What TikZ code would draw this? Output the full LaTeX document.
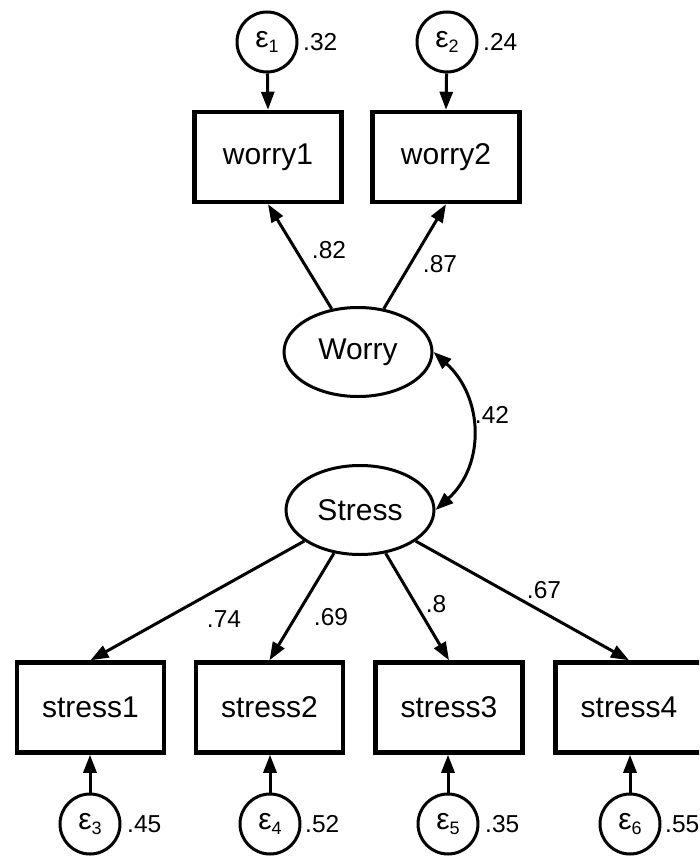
\documentclass[tikz,border=0pt]{standalone}
\usepackage{fontspec}
\setmainfont{Liberation Sans}
\usetikzlibrary{arrows.meta,shapes.geometric}
\newcommand{\epsl}[1]{ε\raisebox{-5pt}{\fontsize{18}{18}\selectfont #1}}
\begin{document}
\begin{tikzpicture}[x=1pt,y=-1pt,
  box/.style={draw, line width=4.5pt, minimum width=147pt, minimum height=90pt, inner sep=0pt, font=\fontsize{30}{36}\selectfont},
  lat/.style={draw, ellipse, line width=3pt, minimum width=148pt, minimum height=89pt, inner sep=0pt, font=\fontsize{30}{36}\selectfont},
  err/.style={draw, circle, line width=3pt, minimum size=60pt, inner sep=0pt, font=\fontsize{30}{36}\selectfont},
  lab/.style={font=\fontsize{24.5}{28}\selectfont, inner sep=0pt},
  arr/.style={-{Triangle[length=18pt,width=13pt]}, line width=3pt},
  darr/.style={{Triangle[length=18pt,width=13pt]}-{Triangle[length=18pt,width=13pt]}, line width=3pt},
]
\useasboundingbox (0,0) rectangle (699,859);
\clip (0,0) rectangle (699,859);

% latent variables
\node[lat] (Worry) at (358,352) {Worry};
\node[lat] (Stress) at (360,510) {Stress};

% observed variables
\node[box] (w1) at (268,157) {worry1};
\node[box] (w2) at (446,157) {worry2};
\node[box] (s1) at (90.5,707.5) {stress1};
\node[box] (s2) at (269.5,707.5) {stress2};
\node[box] (s3) at (449,707.5) {stress3};
\node[box] (s4) at (629,707.5) {stress4};

% error terms
\node[err] (e1) at (267,42) {\epsl{1}};
\node[err] (e2) at (447,42) {\epsl{2}};
\node[err] (e3) at (90,824) {\epsl{3}};
\node[err] (e4) at (270,824) {\epsl{4}};
\node[err] (e5) at (448,824) {\epsl{5}};
\node[err] (e6) at (630,824) {\epsl{6}};

% error variances
\node[lab, anchor=west] (v1) at (303,42) {.32};
\node[lab, anchor=west] (v2) at (483,42) {.24};
\node[lab, anchor=west] (v3) at (127,824) {.45};
\node[lab, anchor=west] (v4) at (305,824) {.52};
\node[lab, anchor=west] (v5) at (485,824) {.35};
\node[lab, anchor=west] (v6) at (665,824) {.55};

% error paths
\draw[arr] (e1) -- (w1.north);
\draw[arr] (e2) -- (w2.north);
\draw[arr] (e3) -- (s1.south -| e3);
\draw[arr] (e4) -- (s2.south -| e4);
\draw[arr] (e5) -- (s3.south -| e5);
\draw[arr] (e6) -- (s4.south -| e6);

% loadings
\draw[arr] (Worry) -- (w1.south);
\draw[arr] (Worry) -- (w2.south);
\draw[arr] (Stress) -- (s1.north);
\draw[arr] (Stress) -- (s2.north);
\draw[arr] (Stress) -- (s3.north);
\draw[arr] (Stress) -- (s4.north);

% covariance
\draw[darr] (Worry.east) .. controls +(50,45) and +(50,-45) .. (Stress.east);

% loading labels
\node[lab] (l1) at (329,250) {.82};
\node[lab] (l2) at (440,264) {.87};
\node[lab] (l3) at (224,619) {.74};
\node[lab] (l4) at (331,617) {.69};
\node[lab] (l5) at (436,604) {.8};
\node[lab] (l6) at (544,590) {.67};
\node[lab] (l7) at (492,415) {.42};
\end{tikzpicture}
\end{document}
